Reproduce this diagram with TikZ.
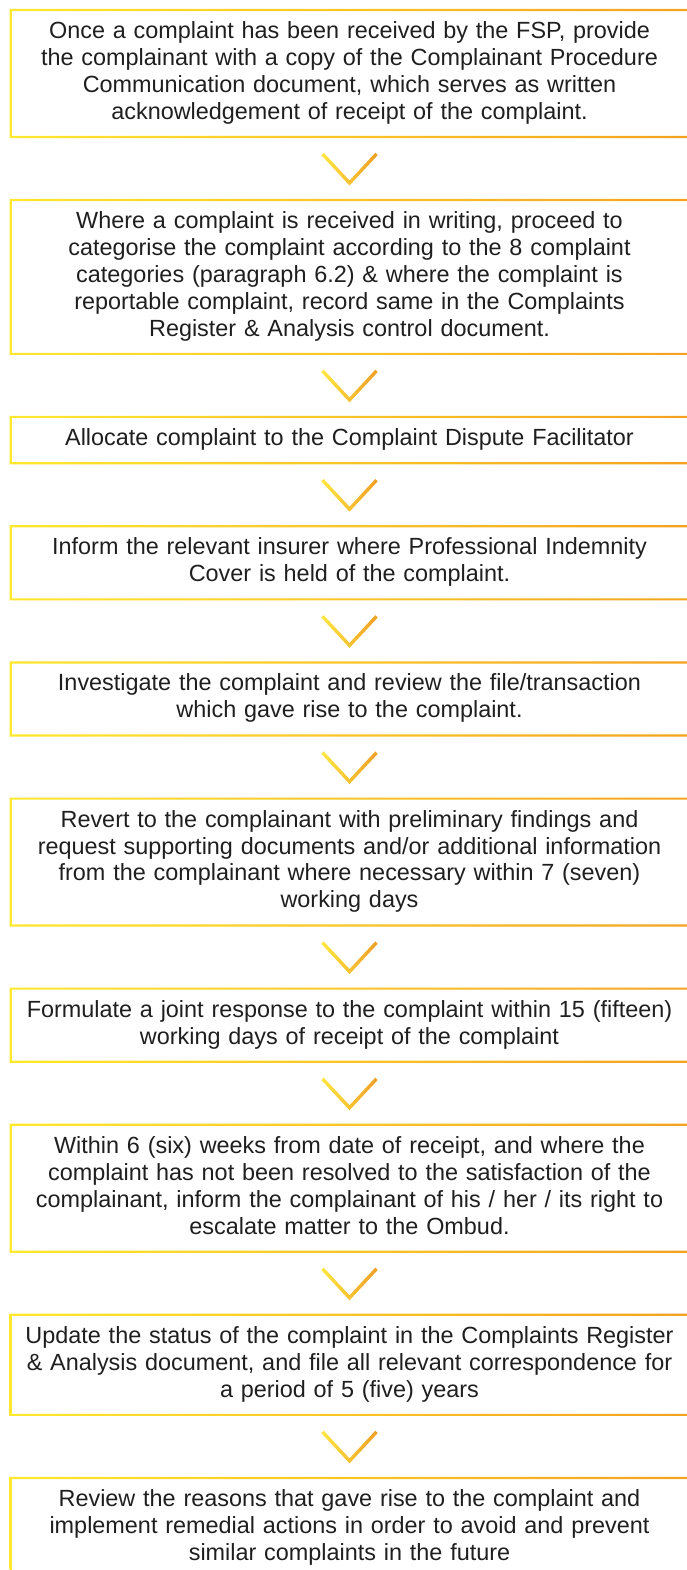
\documentclass[tikz,border=0pt]{standalone}
\usepackage{fontspec}
\setmainfont{Liberation Sans}
\usetikzlibrary{positioning, calc}

\definecolor{frameyel}{HTML}{FFE82E}
\definecolor{frameorg}{HTML}{F4A21F}
\definecolor{chevyel}{HTML}{FFE640}
\definecolor{chevorg}{HTML}{EE9E25}

\tikzset{
    stagebox/.style={minimum width=677bp, text width=676bp, align=center,
        inner xsep=0bp, inner ysep=9.5bp, text=black!88,
        font=\fontsize{23.5}{27}\selectfont,
        execute at begin node=\strut, execute at end node=\strut},
    chev/.pic={
        \shade[left color=chevyel, right color=chevorg]
            (-25.8,-15.7) -- (-28.2,-13.3) -- (0,17) -- (28.2,-13.3)
            -- (25.8,-15.7) -- (0,12) -- cycle;
    }
}

\begin{document}
\begin{tikzpicture}[x=1bp, y=-1bp]
    \useasboundingbox (0,0) rectangle (687,1570);

    \node[stagebox] (s1) at (349.5,73.5) {Once a complaint has been received by the FSP, provide\\the complainant with a copy of the Complainant Procedure\\Communication document, which serves as written\\acknowledgement of receipt of the complaint.};
    \node[stagebox, below=63bp of s1] (s2) {Where a complaint is received in writing, proceed to\\categorise the complaint according to the 8 complaint\\categories (paragraph 6.2) \& where the complaint is\\reportable complaint, record same in the Complaints\\Register \& Analysis control document.};
    \node[stagebox, below=63bp of s2] (s3) {Allocate complaint to the Complaint Dispute Facilitator};
    \node[stagebox, below=63bp of s3] (s4) {Inform the relevant insurer where Professional Indemnity\\Cover is held of the complaint.};
    \node[stagebox, below=63bp of s4] (s5) {Investigate the complaint and review the file/transaction\\which gave rise to the complaint.};
    \node[stagebox, below=63bp of s5] (s6) {Revert to the complainant with preliminary findings and\\request supporting documents and/or additional information\\from the complainant where necessary within 7 (seven)\\working days};
    \node[stagebox, below=63bp of s6] (s7) {Formulate a joint response to the complaint within 15 (fifteen)\\working days of receipt of the complaint};
    \node[stagebox, below=63bp of s7] (s8) {Within 6 (six) weeks from date of receipt, and where the\\complaint has not been resolved to the satisfaction of the\\complainant, inform the complainant of his / her / its right to\\escalate matter to the Ombud.};
    \node[stagebox, below=63bp of s8] (s9) {Update the status of the complaint in the Complaints Register\\\& Analysis document, and file all relevant correspondence for\\a period of 5 (five) years};
    \node[stagebox, below=63bp of s9] (s10) {Review the reasons that gave rise to the complaint and\\implement remedial actions in order to avoid and prevent\\similar complaints in the future};

    % gradient frames
    \foreach \n in {s1,s2,s3,s4,s5,s6,s7,s8,s9,s10}
        \shade[even odd rule, left color=frameyel, right color=frameorg]
            ($(\n.north west)+(-1.1,-1.1)$) rectangle ($(\n.south east)+(1.1,1.1)$)
            ($(\n.north west)+(1.1,1.1)$) rectangle ($(\n.south east)+(-1.1,-1.1)$);

    % chevrons between the stages
    \foreach \a/\b in {s1/s2,s2/s3,s3/s4,s4/s5,s5/s6,s6/s7,s7/s8,s8/s9,s9/s10}
        \pic at ($(\a.south)!0.5!(\b.north)$) {chev};
\end{tikzpicture}
\end{document}
